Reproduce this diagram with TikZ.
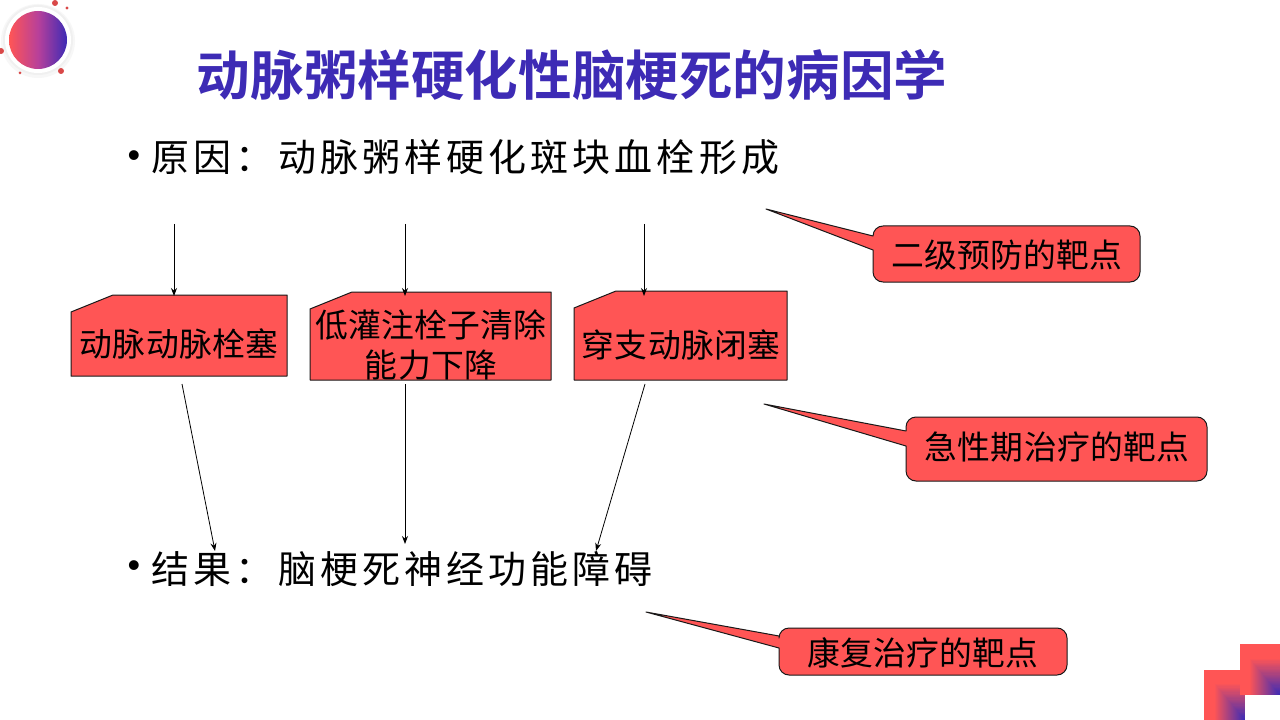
\documentclass[tikz,border=0pt]{standalone}
\usepackage{fontspec}
\newfontfamily\titlef{Noto Sans CJK SC Bold}
\newfontfamily\bodyf[LetterSpace=10.8]{Noto Sans CJK SC}
\newfontfamily\boxf[LetterSpace=1]{Noto Sans CJK SC}
\newfontfamily\bulf{Liberation Sans}
\definecolor{hotred}{HTML}{FF5555}
\definecolor{deepblue}{HTML}{3D2BB5}
\definecolor{midmag}{HTML}{B8409A}
\usetikzlibrary{arrows.meta}
\tikzset{
  x=0.75pt,y=-0.75pt,
  titletext/.style={font=\titlef\fontsize{40.2}{44}\selectfont,text=deepblue,inner sep=0pt},
  bodytext/.style={font=\bodyf\fontsize{28.5}{30}\selectfont,text=black,inner sep=0pt,anchor=west},
  bullettext/.style={font=\bulf\fontsize{27}{30}\selectfont,text=black,inner sep=0pt},
  boxtext/.style={font=\boxf\fontsize{24.6}{30.5}\selectfont,text=black,inner sep=0pt,align=center},
  shapefill/.style={fill=hotred,draw=black!90,line width=0.75pt,line join=round},
  conn/.style={draw=black,line width=0.6pt,-{Stealth[length=6pt,width=4.5pt]}},
}
\newcommand{\cornerbox}[4]{%
  \begin{scope}
    \clip (#1,#2) rectangle (#3,#4);
    \fill[hotred] (#1,#2) rectangle (#3,#4);
    \foreach \i in {0,...,29}{%
      \pgfmathsetmacro{\mixv}{(\i+1)*100/30}
      \pgfmathsetmacro{\off}{30-\i}
      \fill[deepblue!\mixv!hotred] (#3-\off,#4-\off*1.2) rectangle (#3,#4);
    }
  \end{scope}}
\begin{document}
\begin{tikzpicture}
\useasboundingbox (0,0) rectangle (1280,720);
\fill[white] (0,0) rectangle (1280,720);
% decoration top-left
\fill[black!3] (38,41) circle[radius=37];
\fill[black!6] (38,40) circle[radius=35];
\fill[white] (38,40) circle[radius=33];
\shade[left color=hotred,right color=deepblue,middle color=midmag] (38,40) circle[radius=29];
\foreach \px/\py/\pr in {55/3/3,67/8/1.6,1/51/3,61/71/3,20/73/1.5}
  \fill[hotred!85!black] (\px,\py) circle[radius=\pr];
% decoration bottom-right
\cornerbox{1204}{670}{1245}{720}
\cornerbox{1240}{644}{1280}{695}
% title and bullets
\node[titletext] (title) at (572,75) {动脉粥样硬化性脑梗死的病因学};
\node[bullettext] (bul1) at (134,159) {•};
\node[bodytext] (cause) at (151.5,157) {原因：动脉粥样硬化斑块血栓形成};
\node[bullettext] (bul2) at (134,569) {•};
\node[bodytext] (result) at (151.5,569) {结果：脑梗死神经功能障碍};
% snipped boxes
\path[shapefill] (71,312) -- (113,295) -- (287,295) -- (287,376) -- (71,376) -- cycle;
\path[shapefill] (310,309) -- (352,292) -- (551,292) -- (551,380) -- (310,380) -- cycle;
\path[shapefill] (574,308) -- (616,291) -- (787,291) -- (787,380) -- (574,380) -- cycle;
\node[boxtext] (b1) at (179,344) {动脉动脉栓塞};
\node[boxtext] (b2) at (431,345) {低灌注栓子清除\\能力下降};
\node[boxtext] (b3) at (681,345) {穿支动脉闭塞};
% callouts
\path[shapefill] (873,250) [rounded corners=7.5pt] -- (873,282) -- (1140,282) -- (1140,226) -- (873,226) [sharp corners] -- (873,236) -- (766,209) -- cycle;
\path[shapefill] (906,446) [rounded corners=7.5pt] -- (906,481) -- (1207,481) -- (1207,417) -- (906,417) [sharp corners] -- (906,431) -- (764,404) -- cycle;
\path[shapefill] (779,648) [rounded corners=7.5pt] -- (779,675) -- (1067,675) -- (1067,628) -- (779,628) [sharp corners] -- (779,636) -- (646,612) -- cycle;
\node[boxtext] (c1) at (1007,255) {二级预防的靶点};
\node[boxtext] (c2) at (1057,447) {急性期治疗的靶点};
\node[boxtext] (c3) at (923,653) {康复治疗的靶点};
% connector ends
\coordinate (t1) at (174,224); \coordinate (e1) at (174,296);
\coordinate (t2) at (405,224); \coordinate (e2) at (405,296);
\coordinate (t3) at (644,224); \coordinate (e3) at (644,296);
\coordinate (s1) at (182,384); \coordinate (r1) at (215,551);
\coordinate (s2) at (405,384); \coordinate (r2) at (405,544);
\coordinate (s3) at (645,384); \coordinate (r3) at (596,551);
\draw[conn] (t1) -- (e1);
\draw[conn] (t2) -- (e2);
\draw[conn] (t3) -- (e3);
\draw[conn] (s1) -- (r1);
\draw[conn] (s2) -- (r2);
\draw[conn] (s3) -- (r3);
\end{tikzpicture}
\end{document}
